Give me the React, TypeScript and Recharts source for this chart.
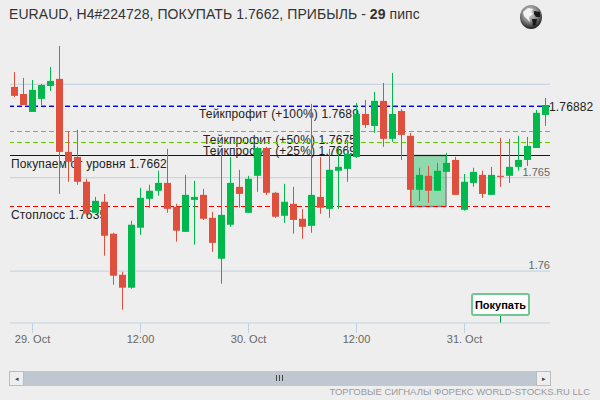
import { Bar, CartesianGrid, ComposedChart, ReferenceArea, ReferenceLine, XAxis, YAxis } from 'recharts';

const categories = [
  '28 22', '28 23', '29 00', '29 01', '29 02', '29 03', '29 04', '29 05', '29 06', '29 07',
  '29 08', '29 09', '29 10', '29 11', '29 12', '29 13', '29 14', '29 15', '29 16', '29 17',
  '29 18', '29 19', '29 20', '29 21', '29 22', '29 23', '30 00', '30 01', '30 02', '30 03',
  '30 04', '30 05', '30 06', '30 07', '30 08', '30 09', '30 10', '30 11', '30 12', '30 13',
  '30 14', '30 15', '30 16', '30 17', '30 18', '30 19', '30 20', '30 21', '30 22', '30 23',
  '31 00', '31 01', '31 02', '31 03', '31 04', '31 05', '31 06', '31 07', '31 08', '31 09',
];
const opens = [
  1.76986, 1.76948, 1.76852, 1.76922, 1.76991, 1.77029, 1.76638, 1.76611, 1.76478, 1.76312,
  1.76371, 1.762, 1.7598, 1.75911, 1.76232, 1.76387, 1.7643, 1.76472, 1.76344, 1.7621,
  1.76381, 1.76408, 1.76285, 1.76066, 1.76248, 1.76451, 1.76312, 1.7651, 1.76659, 1.76419,
  1.76296, 1.7636, 1.7628, 1.76242, 1.76397, 1.76333, 1.76537, 1.76547, 1.76611, 1.76841,
  1.76777, 1.76911, 1.76708, 1.76857, 1.76724, 1.76435, 1.7651, 1.7643, 1.76531, 1.76595,
  1.76328, 1.76472, 1.76515, 1.76408, 1.7651, 1.7651, 1.76558, 1.76595, 1.76659, 1.76836,
];
const closes = [
  1.76938, 1.76889, 1.7697, 1.76996, 1.77018, 1.76638, 1.76585, 1.76478, 1.76307, 1.76376,
  1.76189, 1.75975, 1.75911, 1.76248, 1.76392, 1.7643, 1.76472, 1.76333, 1.76216, 1.76408,
  1.76397, 1.7628, 1.76151, 1.76301, 1.76472, 1.76413, 1.76494, 1.76659, 1.76419, 1.76291,
  1.76371, 1.76274, 1.76237, 1.76408, 1.76339, 1.76542, 1.76558, 1.76627, 1.76841, 1.76782,
  1.76911, 1.76708, 1.76841, 1.76729, 1.76435, 1.76515, 1.7643, 1.76537, 1.76579, 1.76408,
  1.76478, 1.76531, 1.76413, 1.76515, 1.76504, 1.76558, 1.76595, 1.7667, 1.76847, 1.76889,
];
const highs = [
  1.77066, 1.77034, 1.77023, 1.77002, 1.77093, 1.77205, 1.7675, 1.76756, 1.76494, 1.76397,
  1.76413, 1.76205, 1.75996, 1.76269, 1.76446, 1.76462, 1.76537, 1.76654, 1.7636, 1.76515,
  1.76483, 1.7644, 1.76317, 1.76649, 1.76611, 1.76542, 1.7651, 1.76665, 1.76665, 1.76424,
  1.76467, 1.76451, 1.76333, 1.76895, 1.76611, 1.76654, 1.76665, 1.76702, 1.769, 1.76916,
  1.76959, 1.77007, 1.77061, 1.76868, 1.7674, 1.76553, 1.76563, 1.76579, 1.76633, 1.76611,
  1.7652, 1.76553, 1.76537, 1.76558, 1.76713, 1.76708, 1.76724, 1.76718, 1.76863, 1.76927,
];
const lows = [
  1.76932, 1.76889, 1.76852, 1.76889, 1.76964, 1.76413, 1.76478, 1.76462, 1.76307, 1.76312,
  1.76082, 1.75927, 1.75793, 1.75905, 1.76194, 1.76339, 1.76403, 1.76312, 1.76157, 1.7621,
  1.76141, 1.76274, 1.76103, 1.75932, 1.76237, 1.76339, 1.76312, 1.76424, 1.76408, 1.76285,
  1.76258, 1.762, 1.76173, 1.76205, 1.76307, 1.76285, 1.76333, 1.76478, 1.76606, 1.76766,
  1.7674, 1.76665, 1.76692, 1.76595, 1.76349, 1.76376, 1.76365, 1.7643, 1.76531, 1.76408,
  1.76323, 1.76451, 1.76392, 1.76408, 1.76451, 1.76472, 1.76537, 1.76563, 1.76659, 1.76777,
];

const xTicks = ['29 00', '29 12', '30 00', '30 12', '31 00'];
const xTickLabels = ['29. Oct', '12:00', '30. Oct', '12:00', '31. Oct'];
const yTicks = [1.76, 1.765, 1.77];
const yTickLabels = ['1.76', '1.765', ''];

const currentPrice = 1.76882;
const entryPrice = 1.7662;
const stopPrice = 1.76348;
const takeProfits = [1.76888, 1.76749, 1.7669];
const takeProfitLabels = ['Тейкпрофит (+100%) 1.7689', 'Тейкпрофит (+50%) 1.7675', 'Тейкпрофит (+25%) 1.7669'];
const signalCategory = '31 04';

const data = categories.map((name, i) => ({
  name,
  open: opens[i],
  close: closes[i],
  high: highs[i],
  low: lows[i],
  range: [lows[i], highs[i]],
}));

const FONT = '"Liberation Sans", Arial, sans-serif';
const UNDER_CANDLES = 50;

const Candle = (props: any) => {
  const { x, y, width, height, payload } = props;
  const perUnit = height / (payload.high - payload.low);
  const top = y + (payload.high - Math.max(payload.open, payload.close)) * perUnit;
  const bodyHeight = Math.max(Math.abs(payload.open - payload.close) * perUnit, 1);
  const color = payload.close < payload.open ? '#DF4F3E' : '#00B84B';
  const mid = Math.round(x + width / 2 - 0.5) + 0.5;
  return (
    <g>
      <line x1={mid} x2={mid} y1={y} y2={y + height} stroke={color} strokeWidth={1} />
      <rect x={mid - 3.5} y={top} width={7} height={bodyHeight} fill={color} />
    </g>
  );
};

const XTick = ({ x, y, payload }: any) => (
  <text x={x} y={y + 8} textAnchor="middle" fontSize={11} fontFamily={FONT} fill="#666666">
    {xTickLabels[xTicks.indexOf(payload.value)]}
  </text>
);

const YTick = ({ y, payload }: any) => (
  <text x={550} y={y - 2} textAnchor="end" fontSize={11} fontFamily={FONT} fill="#666666">
    {yTickLabels[yTicks.indexOf(payload.value)]}
  </text>
);

// line and its caption together: the candles have to cover the captions, a Label would sit above them
const priceLine = (text: string, left: number, dy: number) => ({ x1, x2, y1, stroke, strokeDasharray }: any) => {
  const y = Math.floor(y1) + 0.5;
  return (
    <g>
      <line x1={x1} x2={x2} y1={y} y2={y} stroke={stroke} strokeDasharray={strokeDasharray} />
      <text x={left} y={y + dy} fontSize={12} letterSpacing={0.15} fontFamily={FONT} fill="#222222">
        {text}
      </text>
    </g>
  );
};

// drawn from candle centre to candle centre, ReferenceArea alone snaps to the band edges
const TradeBox = ({ x, y, width, height }: any) => (
  <rect
    x={x + 5}
    y={Math.floor(y) + 0.5}
    width={width - 10}
    height={Math.round(height)}
    fill="#00B84B"
    fillOpacity={0.4}
    stroke="#888888"
    strokeWidth={1.5}
  />
);

const SignalFlag = ({ viewBox }: any) => {
  const cx = viewBox.x;
  return (
    <g>
      <rect x={cx - 28.5} y={294} width={57} height={21} rx={2} fill="#FFFFFF" stroke="#70C78F" strokeWidth={2} />
      <text x={cx} y={309} textAnchor="middle" fontSize={11} fontWeight="bold" fontFamily={FONT} fill="#000000">
        Покупать
      </text>
    </g>
  );
};

const Globe = () => (
  <svg width={24} height={26} style={{ position: 'absolute', left: 519, top: 4 }} viewBox="0 0 24 26">
    <defs>
      <radialGradient id="globeFill" cx="45%" cy="35%" r="65%">
        <stop offset="0%" stopColor="#D8D8D8" />
        <stop offset="55%" stopColor="#8A8A8A" />
        <stop offset="100%" stopColor="#1E1E1E" />
      </radialGradient>
    </defs>
    <ellipse cx={12} cy={13} rx={11} ry={12} fill="url(#globeFill)" />
    <path d="M4 8 L9 4 L14 5 L12 8 L14 10 L10 13 L11 18 L8 15 L5 12 Z" fill="#F4F4F4" />
    <path d="M15 7 L21 8 L21 13 L17 13 L15 10 Z M13 15 L18 15 L17 21 L14 22 Z" fill="#1A1A1A" />
  </svg>
);

const ScrollButton = ({ left, direction }: { left: number; direction: string }) => (
  <div
    style={{
      position: 'absolute',
      left,
      top: 371,
      width: 13,
      height: 13,
      background: '#EEEEEE',
      border: '1px solid #BBBBBB',
      fontSize: 7,
      lineHeight: '13px',
      textAlign: 'center',
      color: '#444444',
    }}
  >
    {direction}
  </div>
);

export default function App() {
  return (
    <div style={{ position: 'absolute', left: 0, top: 0, width: 600, height: 400, background: '#EEEEEE', overflow: 'hidden', fontFamily: FONT }}>
      <div style={{ position: 'absolute', left: 9, top: 6, fontSize: 14, letterSpacing: 0.07, color: '#333333', whiteSpace: 'nowrap' }}>
        EURAUD, H4#224728, ПОКУПАТЬ 1.7662, ПРИБЫЛЬ - <b>29</b> пипс
      </div>
      <Globe />
      <ComposedChart width={600} height={400} data={data} margin={{ top: 40, right: 50, bottom: 47, left: 10 }} style={{ position: 'absolute', left: 0, top: 0 }}>
        <CartesianGrid vertical={false} stroke="#C0D0E0" horizontalValues={yTicks} />
        <XAxis
          dataKey="name"
          ticks={xTicks}
          interval={0}
          height={30}
          stroke="#C0D0E0"
          tickSize={10}
          tick={<XTick />}
        />
        <YAxis
          orientation="right"
          width={1}
          mirror
          domain={[1.75722, 1.77237]}
          ticks={yTicks}
          interval={0}
          allowDataOverflow
          axisLine={false}
          tickLine={false}
          tick={<YTick />}
        />
        <ReferenceArea zIndex={UNDER_CANDLES} x1={categories[44]} x2={categories[48]} y1={stopPrice} y2={entryPrice} shape={<TradeBox />} />
        <ReferenceLine zIndex={UNDER_CANDLES} y={takeProfits[0]} stroke="#66CC00" strokeDasharray="5 3" shape={priceLine(takeProfitLabels[0], 199, 12.5)} />
        <ReferenceLine zIndex={UNDER_CANDLES} y={takeProfits[1]} stroke="#66CC00" strokeDasharray="5 3" shape={priceLine(takeProfitLabels[1], 203, 12.5)} />
        <ReferenceLine zIndex={UNDER_CANDLES} y={takeProfits[2]} stroke="#66CC00" strokeDasharray="5 3" shape={priceLine(takeProfitLabels[2], 203, 12.5)} />
        <ReferenceLine zIndex={UNDER_CANDLES} y={currentPrice} stroke="#0000EE" strokeDasharray="5 3" shape={priceLine('1.76882', 549, 4)} />
        <ReferenceLine zIndex={UNDER_CANDLES} y={entryPrice} stroke="#0000CC" shape={priceLine('Покупаем от уровня 1.7662', 11, 12.5)} />
        <ReferenceLine zIndex={UNDER_CANDLES} y={stopPrice} stroke="#FF0000" strokeDasharray="5 3" shape={priceLine('Стоплосс 1.7635', 11, 12.5)} />
        <ReferenceLine
          segment={[
            { x: signalCategory, y: 1.75761 },
            { x: signalCategory, y: 1.75722 },
          ]}
          stroke="#00A040"
          label={SignalFlag}
        />
        <Bar dataKey="range" barSize={7} shape={<Candle />} isAnimationActive={false} />
      </ComposedChart>
      <div style={{ position: 'absolute', left: 10, top: 371, width: 540, height: 15, background: '#BFC8D1' }} />
      <ScrollButton left={9} direction="◂" />
      <ScrollButton left={536} direction="▸" />
      <div style={{ position: 'absolute', left: 276, top: 375, width: 1, height: 6, background: '#444444', boxShadow: '3px 0 0 #444444, 6px 0 0 #444444' }} />
      <div style={{ position: 'absolute', right: 10, top: 386, fontSize: 9.5, color: '#999999', whiteSpace: 'nowrap' }}>
        ТОРГОВЫЕ СИГНАЛЫ ФОРЕКС WORLD-STOCKS.RU LLC
      </div>
    </div>
  );
}
